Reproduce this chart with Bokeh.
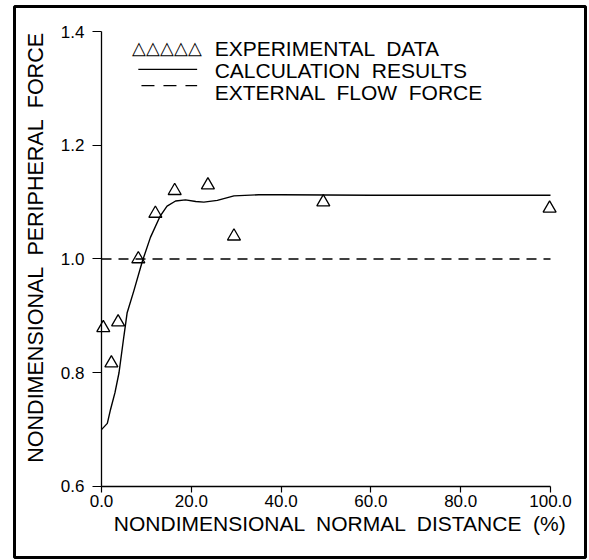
from bokeh.plotting import figure
from bokeh.models import Range1d, FixedTicker, PrintfTickFormatter, Label, Arrow
from bokeh.embed import file_html
from bokeh.resources import INLINE

# Experimental data (triangles)
exp_x = [0.4, 2.2, 3.7, 8.2, 12.0, 16.3, 23.7, 29.5, 49.4, 99.8]
exp_y = [0.879, 0.817, 0.889, 1.000, 1.080, 1.120, 1.130, 1.040, 1.100, 1.089]

# Calculation results (solid curve)
calc_x = [0.0, 1.3, 2.0, 3.0, 3.9, 5.0, 5.7, 7.2, 9.1, 10.9, 13.1, 14.6, 16.5, 18.7,
          21.0, 22.8, 25.8, 29.5, 35.0, 40.0, 60.0, 80.0, 100.0]
calc_y = [0.700, 0.711, 0.735, 0.765, 0.800, 0.865, 0.905, 0.944, 0.996, 1.038, 1.076,
          1.093, 1.102, 1.104, 1.101, 1.100, 1.103, 1.111, 1.113, 1.113, 1.112, 1.112, 1.112]

# External flow force (dashed)
ext_x = [0.0, 100.0]
ext_y = [1.0, 1.0]

x_ticks = [0, 20, 40, 60, 80, 100]
y_ticks = [0.6, 0.8, 1.0, 1.2, 1.4]

FONT = "Liberation Sans"
NB = "\u00a0"
GAP = " " + NB  # wide word gap (plain double spaces collapse in SVG)

# Frame spans the whole boxed figure; axes are fixed at x=0 and y=0.6
p = figure(width=589, height=560, output_backend="svg", toolbar_location=None,
           x_range=Range1d(-19.376, 107.795), y_range=Range1d(0.47516, 1.44396))
p.min_border_left = 14
p.min_border_right = 4
p.min_border_top = 6
p.min_border_bottom = 3
p.outline_line_color = "black"
p.outline_line_width = 3
p.background_fill_color = "white"
p.border_fill_color = "white"
p.xgrid.visible = False
p.ygrid.visible = False

p.line(calc_x, calc_y, line_color="black", line_width=1.4)
p.line(ext_x, ext_y, line_color="black", line_width=1.3, line_dash="10 7")
p.scatter(exp_x, exp_y, marker="triangle", size=13, fill_color=None,
          line_color="black", line_width=1.3)

for ax in (p.xaxis[0], p.yaxis[0]):
    ax.axis_line_color = "black"
    ax.axis_line_width = 1.3
    ax.major_tick_line_color = "black"
    ax.major_tick_line_width = 1.2
    ax.minor_tick_line_color = None
    ax.major_tick_in = 0
    ax.major_label_text_font = FONT
    ax.major_label_text_font_size = "17px"
    ax.major_label_text_color = "black"
    ax.axis_label_text_font = FONT
    ax.axis_label_text_font_style = "normal"
    ax.axis_label_text_color = "black"

p.xaxis[0].fixed_location = 0.6
p.xaxis[0].ticker = FixedTicker(ticks=x_ticks)
p.xaxis[0].formatter = PrintfTickFormatter(format="%.1f")
p.xaxis[0].bounds = (0, 100)
p.xaxis[0].major_tick_out = 6
p.xaxis[0].major_label_standoff = 3
p.xaxis[0].axis_label = NB * 5 + GAP.join(["NONDIMENSIONAL", "NORMAL", "DISTANCE", "(%)"])
p.xaxis[0].axis_label_text_font_size = "21px"
p.xaxis[0].axis_label_standoff = 1

p.yaxis[0].fixed_location = 0
p.yaxis[0].ticker = FixedTicker(ticks=y_ticks)
p.yaxis[0].formatter = PrintfTickFormatter(format="%.1f")
p.yaxis[0].bounds = (0.6, 1.4)
p.yaxis[0].major_tick_out = 9
p.yaxis[0].major_label_standoff = 8
p.yaxis[0].axis_label = NB * 4 + GAP.join(["NONDIMENSIONAL", "PERIPHERAL", "FORCE"])
p.yaxis[0].axis_label_text_font_size = "21.5px"
p.yaxis[0].axis_label_standoff = 10

# Legend (drawn as annotations)
p.add_layout(Label(x=6.8, y=1.3704, text="△△△△△", text_font=FONT, text_font_size="18px",
                   text_baseline="alphabetic", text_color="black"))
p.add_layout(Label(x=25.2, y=1.3704, text=GAP.join(["EXPERIMENTAL", "DATA"]), text_font=FONT,
                   text_font_size="21px", text_baseline="alphabetic", text_color="black"))
p.add_layout(Label(x=25.2, y=1.3316, text=GAP.join(["CALCULATION", "RESULTS"]), text_font=FONT,
                   text_font_size="21px", text_baseline="alphabetic", text_color="black"))
p.add_layout(Label(x=25.2, y=1.2928, text=GAP.join(["EXTERNAL", "FLOW", "FORCE"]), text_font=FONT,
                   text_font_size="21px", text_baseline="alphabetic", text_color="black"))
p.add_layout(Arrow(start=None, end=None, x_start=8.2, y_start=1.3333, x_end=21.3, y_end=1.3333,
                   line_color="black", line_width=1.3))
p.add_layout(Arrow(start=None, end=None, x_start=8.9, y_start=1.305, x_end=21.3, y_end=1.305,
                   line_color="black", line_width=1.3, line_dash="13 9"))

open("out.html", "w").write(file_html(p, INLINE))
